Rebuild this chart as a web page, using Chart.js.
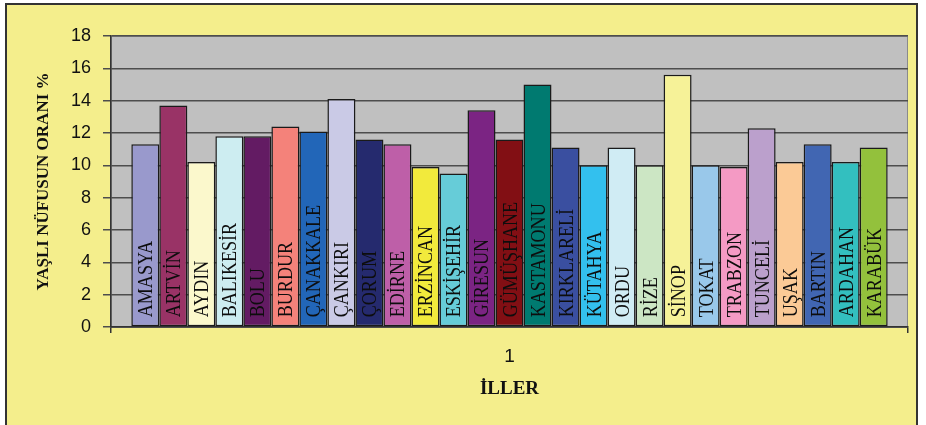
<!DOCTYPE html>
<html>
<head>
    <title>Yaşlı Nüfusun Oranı</title>
    <script src="https://cdn.jsdelivr.net/npm/chart.js@4.4.0/dist/chart.umd.min.js"></script>
    <style>
        body { margin: 0; background: #ffffff; }
    </style>
</head>
<body>
    <canvas id="illerChart" width="926" height="425"></canvas>
    <script>
        // one category, one dataset per province
        var categories = ['1'];
        var iller = ['AMASYA', 'ARTVİN', 'AYDIN', 'BALIKESİR', 'BOLU', 'BURDUR', 'ÇANAKKALE', 'ÇANKIRI',
            'ÇORUM', 'EDİRNE', 'ERZİNCAN', 'ESKİŞEHİR', 'GİRESUN', 'GÜMÜŞHANE', 'KASTAMONU', 'KIRKLARELİ',
            'KÜTAHYA', 'ORDU', 'RİZE', 'SİNOP', 'TOKAT', 'TRABZON', 'TUNCELİ', 'UŞAK', 'BARTIN', 'ARDAHAN', 'KARABÜK'];
        var oranlar = [11.3, 13.7, 10.2, 11.8, 11.8, 12.4, 12.1, 14.1,
            11.6, 11.3, 9.9, 9.5, 13.4, 11.6, 15.0, 11.1,
            10.0, 11.1, 10.0, 15.6, 10.0, 9.9, 12.3, 10.2, 11.3, 10.2, 11.1];
        var renkler = ['#9999CC', '#993366', '#FBF8CC', '#CDEDF1', '#631B63', '#F4827A', '#2266B8', '#CACAE6',
            '#252A6E', '#BE5FA8', '#F2EA3C', '#66CCD8', '#7B2483', '#820F14', '#007A70', '#3A4FA0',
            '#33C0EE', '#D0ECF4', '#CCE6C4', '#F6F298', '#99C8EA', '#F49AC4', '#BBA0CC', '#FBCA96', '#4166B2', '#33BFBF', '#93C13C'];
        var yTicks = [0, 2, 4, 6, 8, 10, 12, 14, 16, 18];

        var datasets = iller.map(function(il, i) {
            return {
                label: il,
                data: [oranlar[i]],
                backgroundColor: renkler[i],
                borderColor: '#1a1a1a',
                borderWidth: 1.5,
                borderSkipped: false,
                categoryPercentage: 0.949,
                barPercentage: 1
            };
        });

        // yellow frame + grey plot area
        var background = {
            id: 'background',
            beforeDraw: function(chart) {
                var c = chart.ctx, a = chart.chartArea;
                c.save();
                c.fillStyle = '#ffffff';
                c.fillRect(0, 0, chart.width, chart.height);
                c.fillStyle = '#F4EE8C';
                c.fillRect(6, 4, 911, 421);
                c.strokeStyle = '#333333';
                c.lineWidth = 2;
                c.strokeRect(6, 4, 911, 424);
                c.fillStyle = '#C0C0C0';
                c.fillRect(a.left, a.top, a.right - a.left, a.bottom - a.top);
                c.strokeStyle = '#8a8a8a';
                c.lineWidth = 1;
                c.strokeRect(a.left + 0.5, a.top + 0.5, a.right - a.left - 1, a.bottom - a.top);
                c.restore();
            }
        };

        // province names written up the inside of each bar (narrow, tall serif)
        var barLabels = {
            id: 'barLabels',
            afterDatasetsDraw: function(chart) {
                var c = chart.ctx;
                c.save();
                c.font = '21px "Liberation Serif", "Times New Roman", serif';
                c.fillStyle = '#0d0d0d';
                c.textAlign = 'left';
                c.textBaseline = 'alphabetic';
                chart.data.datasets.forEach(function(ds, i) {
                    var bar = chart.getDatasetMeta(i).data[0];
                    c.save();
                    c.translate(bar.x + 7, bar.base - 9);
                    c.rotate(-Math.PI / 2);
                    c.scale(0.86, 1);
                    c.fillText(ds.label, 0, 0);
                    c.restore();
                });
                c.restore();
            }
        };

        var ctx = document.getElementById('illerChart').getContext('2d');
        var illerChart = new Chart(ctx, {
            type: 'bar',
            data: {
                labels: categories,
                datasets: datasets
            },
            options: {
                responsive: false,
                animation: false,
                layout: { padding: { top: 36, right: 18, left: 0, bottom: 0 } },
                plugins: {
                    legend: { display: false },
                    tooltip: { enabled: false }
                },
                scales: {
                    x: {
                        afterFit: function(scale) { scale.height = 98; },
                        grid: { drawOnChartArea: false, tickLength: 6, color: '#333333', lineWidth: 1.5 },
                        border: { color: '#333333', width: 1.5 },
                        ticks: { color: '#111111', padding: 12, font: { family: '"Liberation Sans", Arial, sans-serif', size: 19 } },
                        title: {
                            display: true,
                            text: 'İLLER',
                            color: '#111111',
                            padding: { bottom: 25 },
                            font: { family: '"Liberation Serif", "Times New Roman", serif', size: 19, weight: 'bold' }
                        }
                    },
                    y: {
                        min: 0,
                        max: 18,
                        afterFit: function(scale) { scale.width = 111; },
                        afterBuildTicks: function(scale) {
                            scale.ticks = yTicks.map(function(v) { return { value: v }; });
                        },
                        grid: { color: '#4d4d4d', lineWidth: 1.5, tickLength: 8 },
                        border: { color: '#333333', width: 1.5 },
                        ticks: { color: '#111111', padding: 12, font: { family: '"Liberation Sans", Arial, sans-serif', size: 18 } },
                        title: {
                            display: true,
                            text: 'YAŞLI NÜFUSUN ORANI %',
                            color: '#111111',
                            padding: { top: 33 },
                            font: { family: '"Liberation Serif", "Times New Roman", serif', size: 17, weight: 'bold' }
                        }
                    }
                }
            },
            plugins: [background, barLabels]
        });
    </script>
</body>
</html>
